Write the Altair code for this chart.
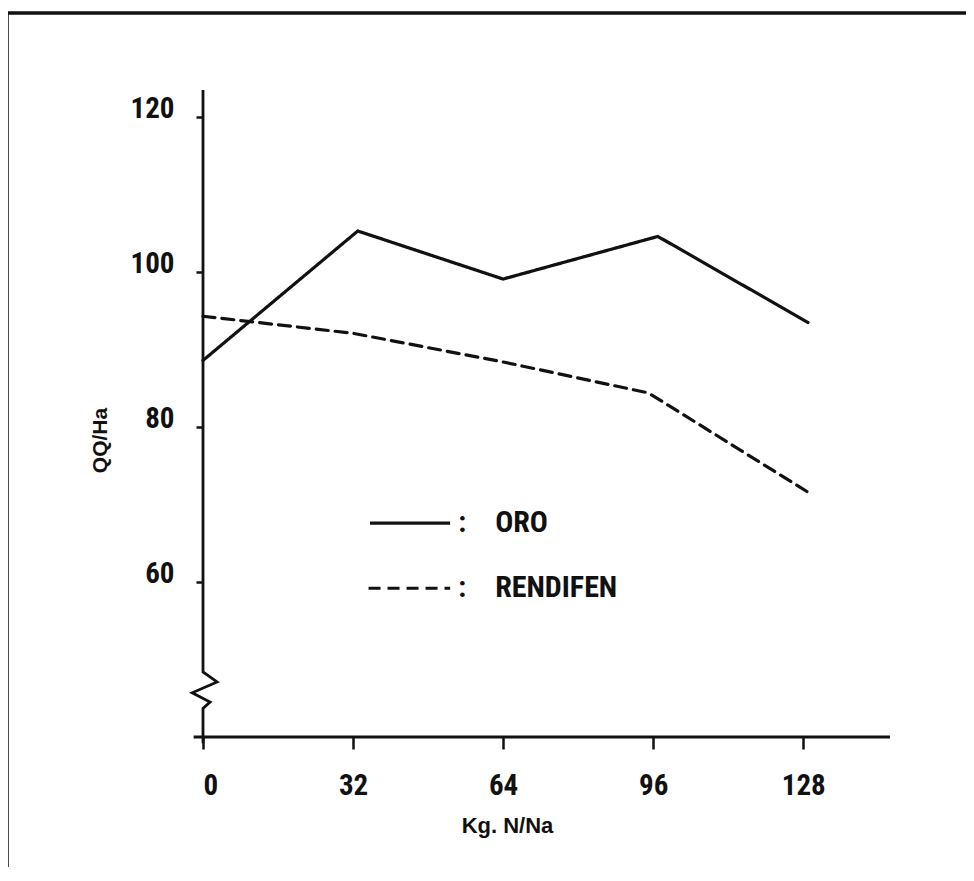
import altair as alt
import pandas as pd

# ---- data ----
oro_x = [0, 33, 64, 97, 129]
oro_y = [88.6, 105.3, 99.1, 104.6, 93.5]
ren_x = [0, 32, 64, 95, 129]
ren_y = [94.3, 92.1, 88.4, 84.4, 71.6]

series_names = ["ORO", "RENDIFEN"]
x_ticks = [0, 32, 64, 96, 128]
y_ticks = [60, 80, 100, 120]

# hand-drawn axis (with the scale break zig-zag), in data units
yaxis_x = [0, 0, 3.0, -2.3, 1.5, 0, 0]
yaxis_y = [123.5, 48.4, 47.1, 45.7, 44.5, 43.7, 39.2]
xaxis_x = [-2, 146.5]
xaxis_y = [40, 40]

# legend drawn inside the plot
leg_y = [67.6, 59.2]
leg_x0 = [35.6, 35.3]
leg_x1 = [52.7, 52.7]

FONT = "Roboto Condensed, Liberation Sans Narrow, Roboto, sans-serif"
TFONT = "Liberation Sans, Roboto, sans-serif"

df = pd.DataFrame(
    {
        "x": oro_x + ren_x,
        "y": oro_y + ren_y,
        "s": ["ORO"] * len(oro_x) + ["RENDIFEN"] * len(ren_x),
    }
)
yax = pd.DataFrame({"x": yaxis_x, "y": yaxis_y, "o": list(range(len(yaxis_x)))})
xax = pd.DataFrame({"x": xaxis_x, "y": xaxis_y, "o": [0, 1]})
leg = pd.DataFrame({"s": series_names, "y": leg_y, "x0": leg_x0, "x1": leg_x1})

xscale = alt.Scale(domain=[0, 146.5], nice=False, zero=False)
yscale = alt.Scale(domain=[40, 123.5], nice=False, zero=False)
dash = alt.StrokeDash(
    "s:N",
    scale=alt.Scale(domain=series_names, range=[[1, 0], [12, 7]]),
    legend=None,
)

lines = (
    alt.Chart(df)
    .mark_line(color="#111111", strokeWidth=3.2, strokeCap="round")
    .encode(
        x=alt.X(
            "x:Q",
            scale=xscale,
            axis=alt.Axis(
                values=x_ticks,
                domain=False,
                grid=False,
                tickSize=12,
                tickWidth=2.5,
                tickColor="#111111",
                labelFont=FONT,
                labelFontSize=29,
                labelFontWeight="bold",
                labelColor="#111111",
                labelPadding=22,
                title="Kg. N/Na",
                titleFont=TFONT,
                titleFontSize=22,
                titleFontWeight="bold",
                titleColor="#111111",
                titleX=304,
                titleY=95,
                titleAlign="center",
                titleBaseline="alphabetic",
            ),
        ),
        y=alt.Y(
            "y:Q",
            scale=yscale,
            axis=alt.Axis(
                values=y_ticks,
                domain=False,
                grid=False,
                tickSize=7,
                tickWidth=2.5,
                tickColor="#111111",
                labelFont=FONT,
                labelFontSize=29,
                labelFontWeight="bold",
                labelColor="#111111",
                labelPadding=22,
                labelOffset=-9,
                title="QQ/Ha",
                titleFont=TFONT,
                titleFontSize=21,
                titleFontWeight="bold",
                titleColor="#111111",
                titleAngle=270,
                titleX=-97,
                titleY=350,
                titleAlign="center",
                titleBaseline="alphabetic",
            ),
        ),
        strokeDash=dash,
    )
)

yaxis_line = (
    alt.Chart(yax)
    .mark_line(color="#111111", strokeWidth=2.8, strokeJoin="miter")
    .encode(x=alt.X("x:Q", scale=xscale), y=alt.Y("y:Q", scale=yscale), order="o:Q")
)
xaxis_line = (
    alt.Chart(xax)
    .mark_line(color="#111111", strokeWidth=2.8)
    .encode(x=alt.X("x:Q", scale=xscale), y=alt.Y("y:Q", scale=yscale), order="o:Q")
)

leg_lines = (
    alt.Chart(leg)
    .mark_rule(color="#111111", strokeWidth=3.2)
    .encode(
        x=alt.X("x0:Q", scale=xscale),
        x2="x1:Q",
        y=alt.Y("y:Q", scale=yscale),
        strokeDash=dash,
    )
)
leg_colon = (
    alt.Chart(leg)
    .mark_text(
        text=":", align="left", baseline="middle", font=FONT, fontSize=29,
        fontWeight="bold", color="#111111", dx=8,
    )
    .encode(x=alt.X("x1:Q", scale=xscale), y=alt.Y("y:Q", scale=yscale))
)
leg_text = (
    alt.Chart(leg)
    .mark_text(
        align="left", baseline="middle", font=FONT, fontSize=30,
        fontWeight="bold", color="#111111", dx=45,
    )
    .encode(x=alt.X("x1:Q", scale=xscale), y=alt.Y("y:Q", scale=yscale), text="s:N")
)

frame = (
    alt.Chart(alt.Data(values=[{"a": 1}]))
    .mark_rect(fillOpacity=0, stroke="#111111", strokeWidth=3.5)
    .encode(
        x=alt.value(-196),
        y=alt.value(-77),
        x2=alt.value(900),
        y2=alt.value(900),
    )
)

chart = (
    alt.layer(frame, xaxis_line, yaxis_line, lines, leg_lines, leg_colon, leg_text)
    .properties(
        width=687,
        height=647,
        autosize=alt.AutoSizeParams(type="none"),
        padding={"left": 195, "top": 82, "right": 76, "bottom": 130},
        background="white",
    )
    .configure_view(stroke=None)
)

chart.save("out.html", embed_options={"renderer": "svg", "actions": False})
